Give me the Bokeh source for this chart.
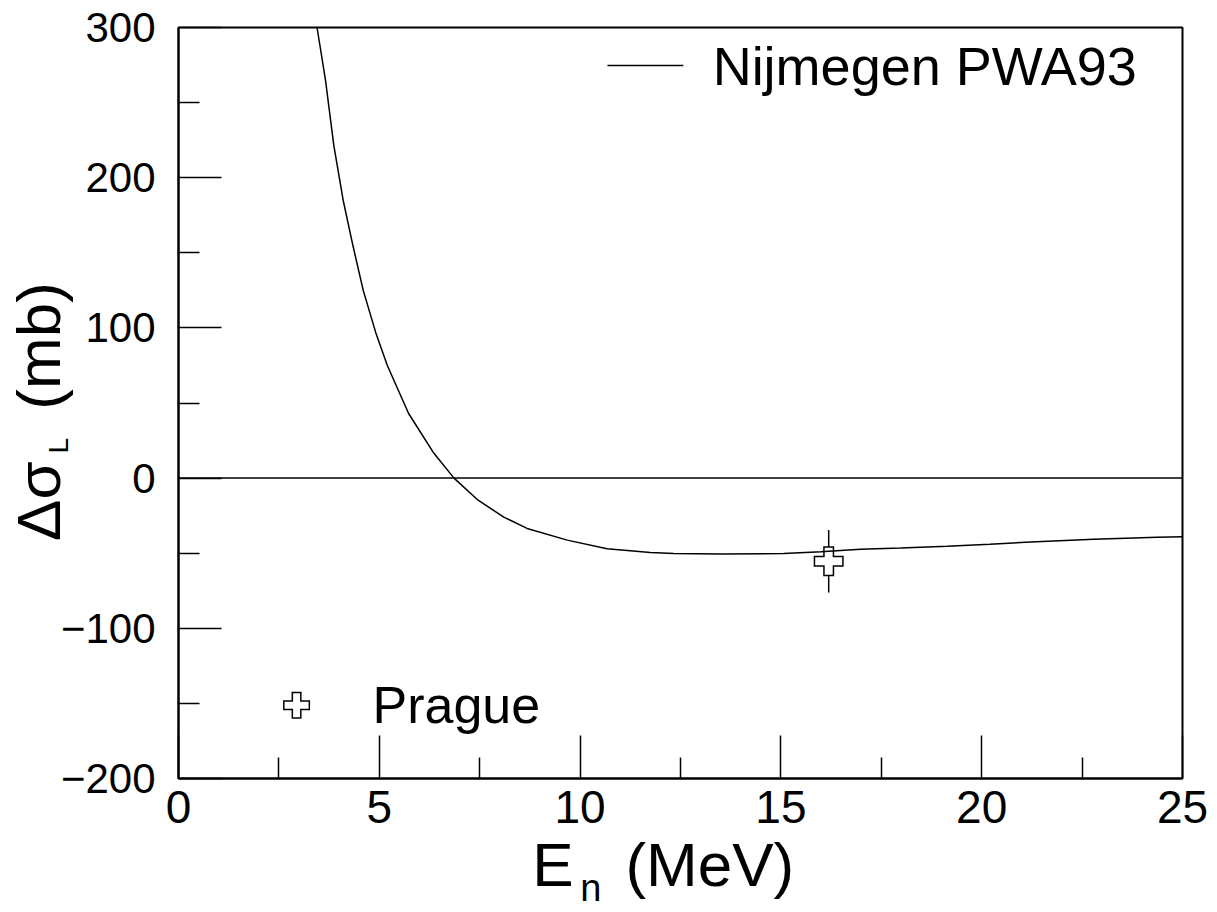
from bokeh.plotting import figure
from bokeh.models import FixedTicker, Span, Label, Range1d, LinearAxis
from bokeh.embed import file_html
from bokeh.resources import INLINE

# ---- data ----
energy = [3.45, 3.66, 3.87, 4.10, 4.35, 4.60, 4.91, 5.20, 5.73, 6.36, 6.86, 7.46,
          8.10, 8.68, 9.68, 10.67, 11.75, 12.33, 13.5, 15.07, 16.0, 16.98, 17.98,
          19.14, 20.2, 21.22, 22.79, 24.37, 25.0]
dsigma = [300, 265, 221, 185, 154, 125, 97, 75, 43, 16.5, 0, -14.7,
          -26, -33.5, -41.3, -47, -49.5, -50.2, -50.5, -50.2, -49, -47.3, -46.5,
          -45.3, -44, -42.5, -40.7, -39.3, -39]

prague_e = [16.19]
prague_val = [-55.4]
prague_err = [20.8]

x_ticks = [0, 5, 10, 15, 20, 25]
x_minor = [2.5, 7.5, 12.5, 17.5, 22.5]
y_ticks = [-200, -100, 0, 100, 200, 300]
y_minor = [-150, -50, 50, 150, 250]
y_tick_labels = ["\u2212200", "\u2212100", "0", "100", "200", "300"]

NB = "\u00a0"
x_title_main = "E" + NB * 3 + "(MeV)" + NB * 2
x_title_sub = "n" + NB * 17
y_title_main = "\u0394\u03c3" + NB * 3 + "(mb)" + NB
y_title_sub = "L" + NB * 11

# legend anchors (data coordinates)
nij_leg_x = [10.68, 12.57]
nij_leg_y = 274.7
nij_text_x = 13.30
prague_leg_x = 2.94
prague_leg_y = -151.3
prague_text_x = 4.83

FONT = "Liberation Sans"

p = figure(width=1208, height=912, x_range=Range1d(0, 25), y_range=Range1d(-200, 300),
           output_backend="svg", toolbar_location=None,
           min_border_left=178, min_border_right=26, min_border_top=27, min_border_bottom=134)
p.grid.visible = False
p.outline_line_color = "black"
p.outline_line_width = 2
p.background_fill_color = "white"
p.border_fill_color = "white"

p.xaxis.ticker = FixedTicker(ticks=x_ticks, minor_ticks=x_minor)
p.yaxis.ticker = FixedTicker(ticks=y_ticks, minor_ticks=y_minor)
p.yaxis.major_label_overrides = {t: l for t, l in zip(y_ticks, y_tick_labels)}
for ax in (p.xaxis, p.yaxis):
    ax.axis_line_color = "black"
    ax.axis_line_width = 2
    ax.major_tick_in = 43
    ax.major_tick_out = 0
    ax.minor_tick_in = 21
    ax.minor_tick_out = 0
    ax.major_tick_line_width = 1.5
    ax.minor_tick_line_width = 1.5
    ax.major_tick_line_color = "black"
    ax.minor_tick_line_color = "black"
    ax.major_label_text_font = FONT
    ax.major_label_text_color = "black"
    ax.axis_label = None
p.xaxis.major_label_text_font_size = "46px"
p.yaxis.major_label_text_font_size = "42px"
p.xaxis.major_label_standoff = 12
p.yaxis.major_label_standoff = 23


def title_axis(text, size, standoff):
    return LinearAxis(ticker=FixedTicker(ticks=[]), axis_label=text,
                      axis_label_text_font=FONT, axis_label_text_font_size=size,
                      axis_label_text_font_style="normal", axis_label_text_color="black",
                      axis_label_standoff=standoff,
                      axis_line_color=None, major_tick_line_color=None,
                      minor_tick_line_color=None, major_tick_in=0, major_tick_out=0,
                      minor_tick_in=0, minor_tick_out=0, major_label_standoff=0)


p.add_layout(title_axis(x_title_main, "62px", 4), "below")
p.add_layout(title_axis(x_title_sub, "38px", -35), "below")
p.add_layout(title_axis(y_title_sub, "28px", -16), "left")
p.add_layout(title_axis(y_title_main, "62px", -33), "left")

p.add_layout(Span(location=0, dimension="width", line_color="black", line_width=1.5))

# Prague point
p.segment(x0=prague_e, y0=[v - e for v, e in zip(prague_val, prague_err)],
          x1=prague_e, y1=[v + e for v, e in zip(prague_val, prague_err)],
          line_color="black", line_width=1.5)
p.scatter(prague_e, prague_val, marker="cross", size=30, line_width=11, line_color="black")
p.scatter(prague_e, prague_val, marker="cross", size=27, line_width=8, line_color="white")

# curve
p.line(energy, dsigma, line_color="black", line_width=1.5)

# legend: Nijmegen
p.line(nij_leg_x, [nij_leg_y, nij_leg_y], line_color="black", line_width=1.5)
p.add_layout(Label(x=nij_text_x, y=nij_leg_y, text="Nijmegen PWA93", text_font=FONT,
                   text_font_size="54px", text_baseline="middle", text_align="left",
                   text_color="black"))
# legend: Prague
p.scatter([prague_leg_x], [prague_leg_y], marker="cross", size=27, line_width=10, line_color="black")
p.scatter([prague_leg_x], [prague_leg_y], marker="cross", size=24, line_width=7, line_color="white")
p.add_layout(Label(x=prague_text_x, y=prague_leg_y, text="Prague", text_font=FONT,
                   text_font_size="52px", text_baseline="middle", text_align="left",
                   text_color="black"))

open("out.html", "w").write(file_html(p, INLINE))
